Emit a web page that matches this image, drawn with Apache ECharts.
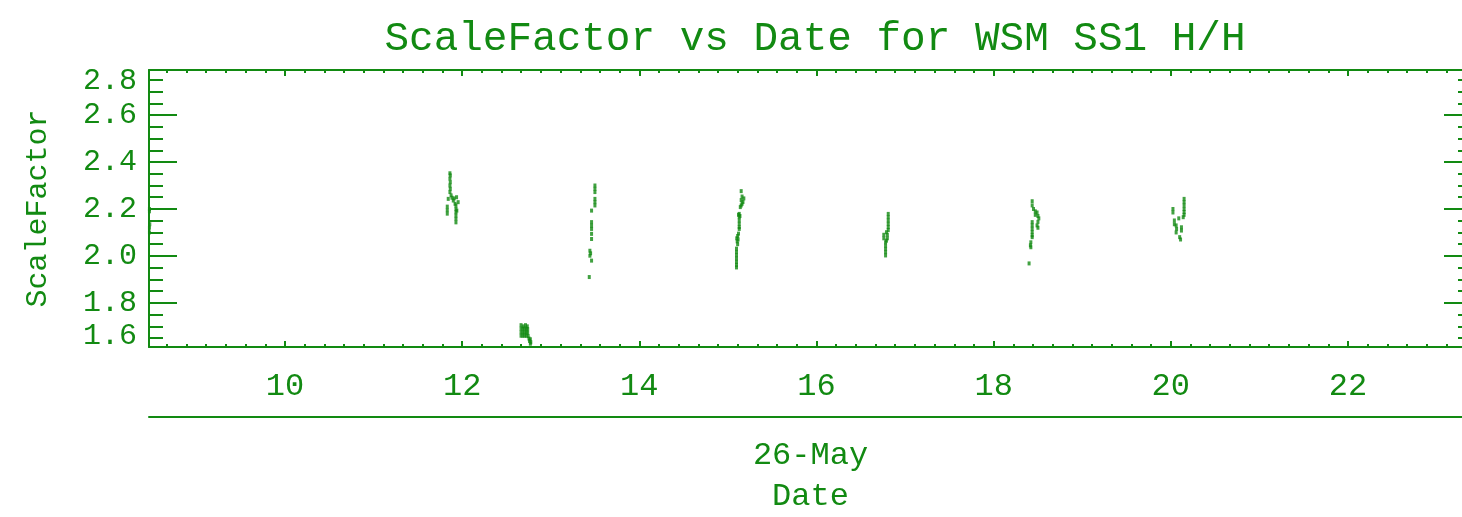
<!DOCTYPE html>
<html>
<head>
<meta charset="utf-8">
<title>ScaleFactor vs Date for WSM SS1 H/H</title>
<script src="https://cdn.jsdelivr.net/npm/echarts@6/dist/echarts.min.js"></script>
<style>
  html, body { margin: 0; padding: 0; background: #ffffff; }
  #chart { width: 1462px; height: 517px; }
</style>
</head>
<body>
<div id="chart"></div>
<script>
// Day of month (May) and measured scale factor, one array per overpass
const pass0 = [
  [8.470, 2.200], [8.470, 2.190], [8.474, 2.135], [8.470, 2.120], [8.470, 2.100]
];
const pass1 = [
  [11.862, 2.352], [11.866, 2.343], [11.862, 2.329], [11.866, 2.314], [11.862, 2.300],
  [11.866, 2.286], [11.862, 2.272], [11.875, 2.258], [11.885, 2.248], [11.843, 2.243],
  [11.900, 2.236], [11.910, 2.245], [11.937, 2.250], [11.955, 2.229], [11.920, 2.222],
  [11.832, 2.210], [11.832, 2.195], [11.832, 2.180],
  [11.930, 2.215], [11.930, 2.200], [11.940, 2.193], [11.930, 2.186], [11.930, 2.172],
  [11.930, 2.158], [11.930, 2.143]
];
const pass2 = [
  [12.665, 1.705], [12.690, 1.700], [12.715, 1.705], [12.735, 1.700],
  [12.665, 1.690], [12.685, 1.690], [12.705, 1.690], [12.725, 1.690], [12.740, 1.688],
  [12.665, 1.675], [12.685, 1.675], [12.705, 1.675], [12.725, 1.675], [12.740, 1.672],
  [12.665, 1.660], [12.685, 1.660], [12.705, 1.660], [12.725, 1.660], [12.745, 1.658],
  [12.755, 1.648], [12.770, 1.645], [12.760, 1.638], [12.775, 1.632], [12.770, 1.626]
];
const pass3 = [
  [13.499, 2.300], [13.499, 2.286], [13.499, 2.272], [13.499, 2.243], [13.499, 2.229],
  [13.499, 2.215], [13.461, 2.193], [13.461, 2.144], [13.461, 2.129], [13.461, 2.115],
  [13.461, 2.094], [13.461, 2.072], [13.442, 2.022], [13.450, 2.011], [13.442, 2.001],
  [13.461, 1.980], [13.435, 1.910]
];
const pass4 = [
  [15.150, 2.276], [15.160, 2.253], [15.180, 2.245], [15.150, 2.238], [15.170, 2.230],
  [15.160, 2.222], [15.150, 2.215], [15.140, 2.208],
  [15.128, 2.179], [15.120, 2.175], [15.136, 2.170], [15.128, 2.165], [15.128, 2.151],
  [15.128, 2.137], [15.128, 2.123], [15.128, 2.115],
  [15.120, 2.095], [15.110, 2.085], [15.100, 2.075], [15.115, 2.070], [15.105, 2.062],
  [15.110, 2.050],
  [15.097, 2.031], [15.097, 2.017], [15.097, 2.003], [15.097, 1.989], [15.097, 1.975],
  [15.097, 1.962], [15.097, 1.951]
];
const pass5 = [
  [16.810, 2.179], [16.810, 2.165], [16.810, 2.151], [16.810, 2.137], [16.810, 2.123],
  [16.810, 2.110], [16.790, 2.101], [16.760, 2.090], [16.800, 2.090], [16.760, 2.075],
  [16.800, 2.075], [16.790, 2.065], [16.780, 2.058], [16.780, 2.044], [16.780, 2.030],
  [16.780, 2.016], [16.780, 2.002]
];
const pass6 = [
  [18.435, 2.233], [18.435, 2.215], [18.450, 2.200], [18.470, 2.190], [18.490, 2.185],
  [18.470, 2.175], [18.500, 2.170], [18.510, 2.160], [18.500, 2.145], [18.490, 2.130],
  [18.500, 2.120], [18.435, 2.144], [18.435, 2.130], [18.435, 2.116], [18.435, 2.102],
  [18.435, 2.088], [18.435, 2.080], [18.420, 2.058], [18.415, 2.045], [18.420, 2.037],
  [18.400, 1.968]
];
const pass7 = [
  [20.150, 2.243], [20.150, 2.229], [20.150, 2.215], [20.150, 2.200], [20.150, 2.187],
  [20.150, 2.175], [20.140, 2.165], [20.090, 2.160], [20.024, 2.200], [20.024, 2.185],
  [20.040, 2.151], [20.040, 2.135], [20.060, 2.130], [20.065, 2.115], [20.060, 2.100],
  [20.120, 2.122], [20.120, 2.108], [20.100, 2.080], [20.110, 2.070]
];
const passes = [pass0, pass1, pass2, pass3, pass4, pass5, pass6, pass7];

// Axis extents and tick steps
const dayRange = [8.465, 23.4];
const dayStep = 2;
const scaleRange = [1.612, 2.792];
const scaleStep = 0.2;

const titleText = 'ScaleFactor vs Date for WSM SS1 H/H';
const yName = 'ScaleFactor';
const dateLabel = '26-May';
const xName = 'Date';

const ink = '#128a12';
const font = '"Liberation Mono", "DejaVu Sans Mono", monospace';

const chart = echarts.init(document.getElementById('chart'), null, { renderer: 'canvas' });

function dayAxis(extra) {
  return Object.assign({
    type: 'value',
    min: dayRange[0],
    max: dayRange[1],
    minInterval: dayStep,
    maxInterval: dayStep,
    axisLine: { show: true, onZero: false, lineStyle: { color: ink, width: 2 } },
    axisTick: { show: true, inside: true, length: 6, lineStyle: { color: ink, width: 2 } },
    minorTick: { show: true, splitNumber: 9, length: 3, lineStyle: { color: ink, width: 2 } },
    splitLine: { show: false },
    minorSplitLine: { show: false }
  }, extra);
}

function scaleAxis(extra) {
  return Object.assign({
    type: 'value',
    min: scaleRange[0],
    max: scaleRange[1],
    minInterval: scaleStep,
    maxInterval: scaleStep,
    axisLine: { show: true, onZero: false, lineStyle: { color: ink, width: 2 } },
    axisTick: { show: true, inside: true, length: 28, lineStyle: { color: ink, width: 2 } },
    minorTick: { show: true, splitNumber: 4, length: 14, lineStyle: { color: ink, width: 2 } },
    splitLine: { show: false },
    minorSplitLine: { show: false }
  }, extra);
}

const option = {
  backgroundColor: '#ffffff',
  animation: false,
  title: {
    text: titleText,
    left: 810,
    textAlign: 'center',
    top: 14,
    textStyle: { color: ink, fontFamily: font, fontSize: 41, fontWeight: 'normal' }
  },
  grid: {
    left: 149, right: -10, top: 70, bottom: 170,
    containLabel: false,
    outerBoundsMode: 'none'
  },
  xAxis: [
    dayAxis({
      position: 'bottom',
      axisLabel: {
        show: true, color: ink, fontFamily: font, fontSize: 32, margin: 24,
        hideOverlap: false,
        showMinLabel: false, showMaxLabel: false,
        formatter: v => String(Math.round(v))
      }
    }),
    dayAxis({ position: 'top', axisLabel: { show: false } }),
    {
      type: 'value',
      position: 'bottom',
      offset: 70,
      min: dayRange[0],
      max: dayRange[1],
      axisLine: { show: true, onZero: false, lineStyle: { color: ink, width: 2 } },
      axisTick: { show: false },
      axisLabel: { show: false },
      splitLine: { show: false },
      name: dateLabel + '\n' + xName,
      nameLocation: 'middle',
      nameGap: 18,
      nameTextStyle: { color: ink, fontFamily: font, fontSize: 32, lineHeight: 41, verticalAlign: 'top' }
    }
  ],
  yAxis: [
    scaleAxis({
      position: 'left',
      name: yName,
      nameLocation: 'middle',
      nameGap: 96,
      nameRotate: 90,
      nameTextStyle: { color: ink, fontFamily: font, fontSize: 30 },
      axisLabel: {
        show: true, color: ink, fontFamily: font, fontSize: 30, lineHeight: 22, margin: 12,
        hideOverlap: false,
        interval: 0,
        showMinLabel: true, showMaxLabel: true,
        verticalAlignMinLabel: 'bottom',
        verticalAlignMaxLabel: 'top',
        formatter: v => v.toFixed(1)
      }
    }),
    scaleAxis({ position: 'right', axisLabel: { show: false } })
  ],
  series: passes.map(p => ({
    type: 'scatter',
    xAxisIndex: 0,
    yAxisIndex: 0,
    data: p,
    symbol: 'rect',
    symbolSize: [3, 4],
    itemStyle: { color: ink },
    silent: true
  }))
};

chart.setOption(option);
</script>
</body>
</html>
